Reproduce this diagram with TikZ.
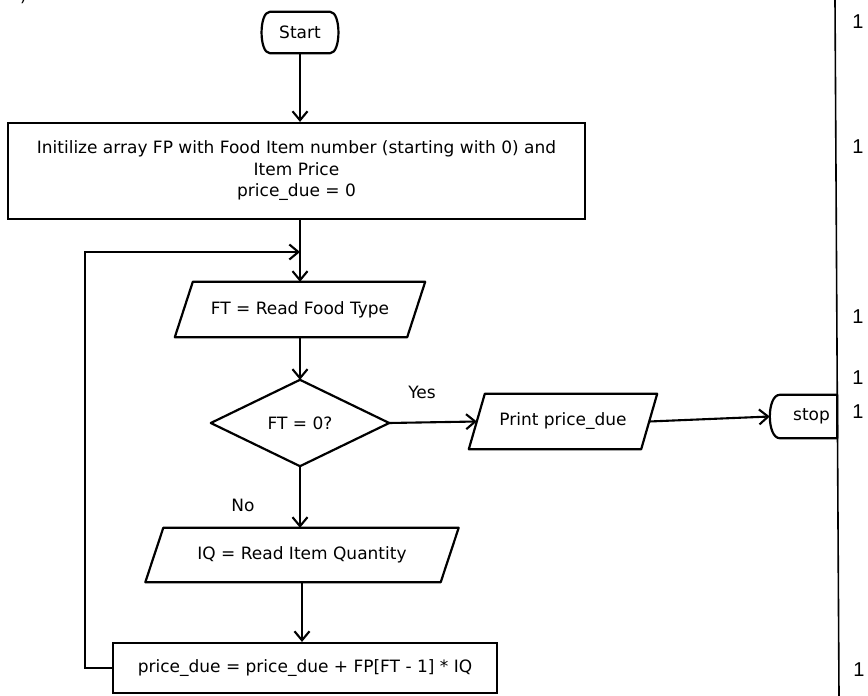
\documentclass[tikz,border=0pt]{standalone}
\usepackage{fontspec}
\setmainfont{DejaVu Sans}
\newfontfamily\numfont{Liberation Sans}
\usetikzlibrary{arrows.meta}
\begin{document}
\begin{tikzpicture}[x=1pt,y=-1pt,
  every node/.style={font=\fontsize{17}{21.5}\selectfont, inner sep=0pt},
  outline/.style={line width=2.2pt, line join=round},
  flow/.style={line width=2.1pt, -{Straight Barb[length=9pt,width=15pt,line width=2.1pt]}},
  plainline/.style={line width=1.6pt},
  num/.style={font=\numfont\fontsize{20}{24}\selectfont},
  procbox/.style={draw, line width=2.2pt, align=center},
  ghost/.style={align=center}]
\useasboundingbox (0,0) rectangle (868,696);

% fragment of the cut-off label
\node[anchor=base west] (tag) at (20,1.5) {)};

% nodes
\node[ghost, minimum width=76pt, minimum height=41pt] (start) at (300,32.5) {Start};
\node[procbox, minimum width=577pt, minimum height=96pt] (init) at (296.5,171)
  {Initilize array FP with Food Item number (starting with 0) and\\Item Price\\price\_due = 0};
\node[ghost, minimum width=232pt, minimum height=55pt] (ft) at (300,309.5) {FT = Read Food Type};
\node[ghost, minimum width=178pt, minimum height=86pt] (dec) at (300,423) {FT = 0?};
\node[ghost, minimum width=172pt, minimum height=55pt] (pr) at (563,421.5) {Print price\_due};
\node[ghost, minimum width=57pt, minimum height=43pt] (stop) at (808.5,416.5) {\hspace*{6pt}stop};
\node[ghost, minimum width=295pt, minimum height=54pt] (iq) at (302,555) {IQ = Read Item Quantity};
\node[procbox, minimum width=384pt, minimum height=50pt] (pb) at (305,668)
  {price\_due = price\_due + FP[FT - 1] * IQ};
\node (yes) at (422,392) {Yes};
\node (no) at (243,505) {No};

% outlines
\draw[outline] ([xshift=8]start.north west) -- ([xshift=-8]start.north east)
  .. controls ([xshift=3]start.north east) and ([xshift=3]start.south east) .. ([xshift=-8]start.south east)
  -- ([xshift=8]start.south west)
  .. controls ([xshift=-3]start.south west) and ([xshift=-3]start.north west) .. cycle;
\draw[outline] ([xshift=9]ft.north west) -- ([xshift=9]ft.north east)
  -- ([xshift=-9]ft.south east) -- ([xshift=-9]ft.south west) -- cycle;
\draw[outline] (dec.north) -- (dec.east) -- (dec.south) -- (dec.west) -- cycle;
\draw[outline] ([xshift=8]pr.north west) -- ([xshift=8]pr.north east)
  -- ([xshift=-8]pr.south east) -- ([xshift=-8]pr.south west) -- cycle;
\draw[outline] ([xshift=9]iq.north west) -- ([xshift=9]iq.north east)
  -- ([xshift=-9]iq.south east) -- ([xshift=-9]iq.south west) -- cycle;
\draw[outline] (stop.north west) -- (stop.north east) -- (stop.south east) -- (stop.south west)
  .. controls ([xshift=-13.3]stop.south west) and ([xshift=-13.3]stop.north west) .. cycle;

% right margin line and numbers
\draw[plainline] (835,0) -- (839,696);
\node[num] (n1) at (858,22) {1};
\node[num] (n2) at (858,147) {1};
\node[num] (n3) at (858,317) {1};
\node[num] (n4) at (858,378) {1};
\node[num] (n5) at (858,412) {1};
\node[num] (n6) at (859,670) {1};

% connectors
\coordinate (loopin) at (300,252);
\coordinate (lx) at (85,668);
\draw[flow] (start.south) -- (start.south |- init.north);
\draw[flow] (ft.north |- init.south) -- (ft.north);
\draw[flow] (pb.west) -- (lx) |- (loopin);
\draw[flow] (ft.south) -- (dec.north);
\draw[flow] (dec.east) -- (pr.west);
\draw[flow] (pr.east) -- ([xshift=-10]stop.west);
\draw[flow] (dec.south) -- (dec.south |- iq.north);
\draw[flow] (iq.south) -- (iq.south |- pb.north);
\end{tikzpicture}
\end{document}
